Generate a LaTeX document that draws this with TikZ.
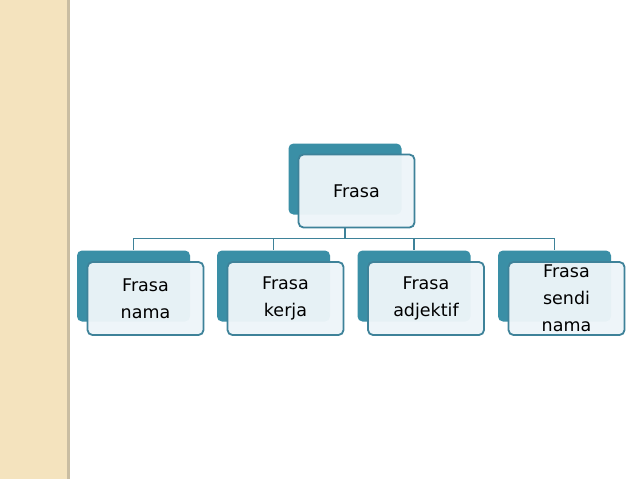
\documentclass[tikz,border=0pt]{standalone}
\usepackage{fontspec}
\setmainfont{DejaVu Sans}
\usetikzlibrary{positioning, calc}
\definecolor{tealdark}{HTML}{3A8FA6}
\definecolor{tealline}{HTML}{3E8299}
\definecolor{boxbg}{HTML}{EEF5F9}
\definecolor{stripbg}{HTML}{F4E3BE}
\definecolor{stripline}{HTML}{C9BDA2}

\tikzset{
  backbox/.style={fill=tealdark, rounded corners=5pt, minimum width=113pt, minimum height=71pt, inner sep=0pt},
  frontbox/.style={draw=tealline, line width=1.8pt, fill=boxbg, fill opacity=0.96, text opacity=1,
    rounded corners=5pt, minimum width=116pt, minimum height=73pt, inner sep=0pt,
    align=center, font=\fontsize{17.5}{27}\selectfont},
  conn/.style={draw=tealline, line width=1.8pt}
}

\begin{document}
\begin{tikzpicture}[x=1pt, y=-1pt]
  \useasboundingbox (0,0) rectangle (638,479);
  \fill[white] (0,0) rectangle (638,479);
  % left strip
  \fill[stripbg] (0,0) rectangle (67,479);
  \fill[stripline] (67,0) rectangle (70,479);
  % top box
  \node[backbox] (topback) at (345,179) {};
  \node[frontbox] (topfront) at (356.5,191) {Frasa};
  % children
  \foreach \name/\x/\txt in {nama/133.5/{Frasa\\nama}, kerja/273.5/{Frasa\\kerja},
      adjektif/414/{Frasa\\adjektif}, sendi/554.5/{Frasa\\sendi\\nama}} {
    \node[backbox] (\name back) at (\x,286) {};
    \node[frontbox] (\name front) at (\x+12,298.5) {\txt};
  }
  % connectors
  \foreach \name in {nama, kerja, adjektif, sendi} {
    \draw[conn] (topback.center |- topfront.south) -- ++(0,10) -| (\name back.north);
  }
\end{tikzpicture}
\end{document}
